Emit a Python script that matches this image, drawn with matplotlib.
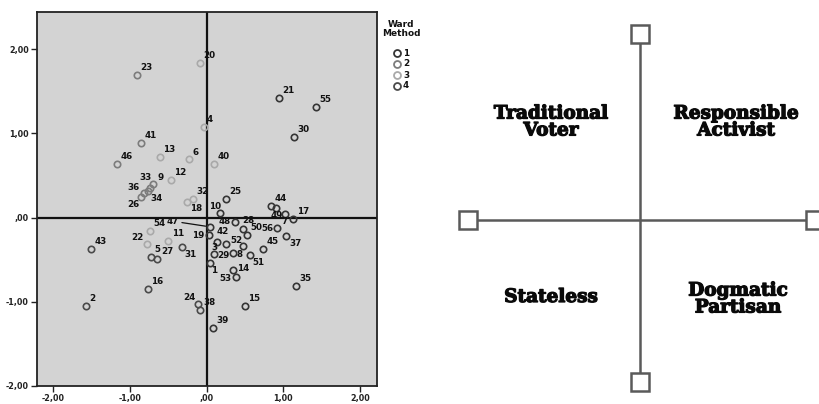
import matplotlib
matplotlib.use("Agg")
import matplotlib.pyplot as plt
from matplotlib.lines import Line2D
from matplotlib.patches import Rectangle
import matplotlib.patheffects as pe

# ---------------- data ----------------
labels = [23, 20, 4, 41, 13, 46, 6, 12, 40, 26, 36, 34, 33, 9, 18, 32,
          21, 55, 30, 25, 10, 44, 49, 7, 17, 56, 37, 45, 48, 28, 50, 52,
          42, 47, 19, 3, 29, 8, 51, 1, 14, 53, 35, 15, 39,
          43, 2, 16, 54, 22, 5, 27, 11, 31, 24, 38]
xs = [-0.91, -0.09, -0.04, -0.86, -0.61, -1.17, -0.23, -0.47, 0.10, -0.85, -0.82, -0.77, -0.74, -0.70, -0.25, -0.18,
      0.94, 1.42, 1.14, 0.25, 0.17, 0.84, 0.91, 1.02, 1.13, 0.92, 1.04, 0.73, 0.37, 0.47, 0.52, 0.48,
      0.13, 0.04, 0.03, 0.25, 0.09, 0.34, 0.56, 0.04, 0.34, 0.38, 1.17, 0.50, 0.08,
      -1.50, -1.57, -0.77, -0.74, -0.78, -0.73, -0.64, -0.50, -0.32, -0.11, -0.09]
ys = [1.69, 1.84, 1.08, 0.89, 0.72, 0.64, 0.69, 0.45, 0.64, 0.24, 0.29, 0.31, 0.35, 0.40, 0.19, 0.22,
      1.42, 1.31, 0.96, 0.22, 0.05, 0.14, 0.11, 0.04, -0.02, -0.13, -0.22, -0.37, -0.05, -0.14, -0.21, -0.34,
      -0.29, -0.11, -0.21, -0.32, -0.43, -0.42, -0.45, -0.54, -0.62, -0.71, -0.81, -1.05, -1.31,
      -0.37, -1.05, -0.85, -0.16, -0.32, -0.47, -0.49, -0.28, -0.35, -1.03, -1.10]
clusters = [2, 3, 3, 2, 3, 2, 3, 3, 3, 2, 2, 2, 2, 2, 3, 3,
            1, 1, 1, 1, 1, 1, 1, 1, 1, 1, 1, 1, 1, 1, 1, 1,
            1, 1, 1, 1, 1, 1, 1, 1, 1, 1, 1, 1, 1,
            4, 4, 4, 3, 3, 4, 4, 3, 4, 4, 4]

cluster_names = ["1", "2", "3", "4"]
x_ticks = [-2, -1, 0, 1, 2]
x_ticklabels = ["-2,00", "-1,00", ",00", "1,00", "2,00"]
y_ticks = [-2, -1, 0, 1, 2]
y_ticklabels = ["-2,00", "-1,00", ",00", "1,00", "2,00"]

quadrant_labels = ["Traditional\nVoter", "Responsible\nActivist", "Stateless", "Dogmatic\nPartisan"]

# ---------------- style ----------------
cluster_colors = {1: "#353535", 2: "#7c7c7c", 3: "#a9a9a9", 4: "#4a4a4a"}
# label placement overrides: (dx, dy, ha, va) in points
default_off = (2.5, 2.0, "left", "bottom")
label_off = {
    36: (-3, 1, "right", "bottom"), 26: (-1, -2, "right", "top"), 34: (2, -2, "left", "top"),
    33: (1, 4, "right", "bottom"), 9: (3, 1, "left", "bottom"), 18: (2, -2, "left", "top"),
    10: (1, 2, "right", "bottom"), 19: (-3, 0, "right", "center"), 3: (-6, -2, "right", "center"),
    48: (-3, 0, "right", "center"), 28: (0, 3, "left", "bottom"), 56: (-3, 0, "right", "center"),
    7: (0, -2, "center", "top"), 49: (0, -2, "center", "top"), 37: (2, -2, "left", "top"),
    31: (2, -2, "left", "top"), 51: (2, -2, "left", "top"), 1: (1, -2, "left", "top"),
    14: (3, 1, "left", "center"), 53: (-3, -1, "right", "center"), 52: (-1, 1, "right", "bottom"),
    24: (-2, 2, "right", "bottom"), 22: (-2, 2, "right", "bottom"), 8: (3, -1, "left", "center"),
    29: (3, -1, "left", "center"), 42: (0, 4, "left", "bottom"),
}

W, H = 819, 404
fig = plt.figure(figsize=(W / 100, H / 100), dpi=100)
fig.patch.set_facecolor("white")

ax = fig.add_axes([37 / W, 1 - 386 / H, 340 / W, 374 / H])
ax.set_facecolor("#d3d3d3")
ax.set_xlim(-2.21, 2.22)
ax.set_ylim(-2.0, 2.44)
ax.axhline(0, color="#111111", lw=1.6, zorder=1)
ax.axvline(0, color="#111111", lw=1.6, zorder=1)

for lab, x, y, c in zip(labels, xs, ys, clusters):
    ax.plot([x], [y], marker="o", ms=4.6, mfc="none", mec=cluster_colors[c], mew=1.2,
            linestyle="none", zorder=3)
    dx, dy, ha, va = label_off.get(lab, default_off)
    if lab == 47:
        ax.annotate(str(lab), (x, y), xytext=(-22, 4), textcoords="offset points",
                    ha="right", va="center", fontsize=6.3, fontweight="bold", color="#111111",
                    arrowprops=dict(arrowstyle="-", color="#111111", lw=0.9, shrinkA=0, shrinkB=3),
                    zorder=4)
    else:
        ax.annotate(str(lab), (x, y), xytext=(dx, dy), textcoords="offset points",
                    ha=ha, va=va, fontsize=6.3, fontweight="bold", color="#111111", zorder=4)

ax.set_xticks(x_ticks)
ax.set_xticklabels(x_ticklabels)
ax.set_yticks(y_ticks)
ax.set_yticklabels(y_ticklabels)
ax.tick_params(direction="out", length=4.5, width=1.0, color="#222222",
               labelsize=5.8, pad=1.5)
for t in ax.get_xticklabels() + ax.get_yticklabels():
    t.set_fontweight("bold")
    t.set_color("#222222")
for s in ax.spines.values():
    s.set_linewidth(1.3)
    s.set_color("#222222")

# legend (manual)
fig.text(401 / W, 1 - 29 / H, "Ward\nMethod", ha="center", va="center", fontsize=6.5,
         fontweight="bold", linespacing=1.0, color="#111111")
for i, name in enumerate(cluster_names):
    yy = 1 - (53 + i * 11) / H
    fig.add_artist(Line2D([397 / W], [yy], marker="o", ms=5.0, mfc="none",
                          mec=cluster_colors[i + 1], mew=1.3, transform=fig.transFigure))
    fig.text(403 / W, yy, name, ha="left", va="center", fontsize=6.3,
             fontweight="bold", color="#111111")

# ---------------- right diagram ----------------
ax2 = fig.add_axes([0, 0, 1, 1], zorder=-1)
ax2.set_xlim(0, W)
ax2.set_ylim(H, 0)
ax2.axis("off")
lc = "#5a5a5a"
cx, cy = 640, 219.5
ax2.plot([cx, cx], [43, 373], color=lc, lw=1.8)
ax2.plot([477, 806], [cy, cy], color=lc, lw=1.8)
sq = 18
for (sx, sy) in [(cx, 33.5), (cx, 382), (467.5, cy), (815, cy)]:
    ax2.add_patch(Rectangle((sx - sq / 2, sy - sq / 2), sq, sq, facecolor="white",
                            edgecolor=lc, lw=1.8, zorder=3))

qpos = [(551, 122), (736, 122), (551, 297), (738, 299)]
for txt, (qx, qy) in zip(quadrant_labels, qpos):
    ax2.text(qx, qy, txt, ha="center", va="center", fontsize=13.3, fontweight="bold",
             family="DejaVu Serif", linespacing=0.92, color="#0a0a0a",
             path_effects=[pe.withStroke(linewidth=0.9, foreground="#0a0a0a")])

fig.savefig("out.png", dpi=100, facecolor="white")
